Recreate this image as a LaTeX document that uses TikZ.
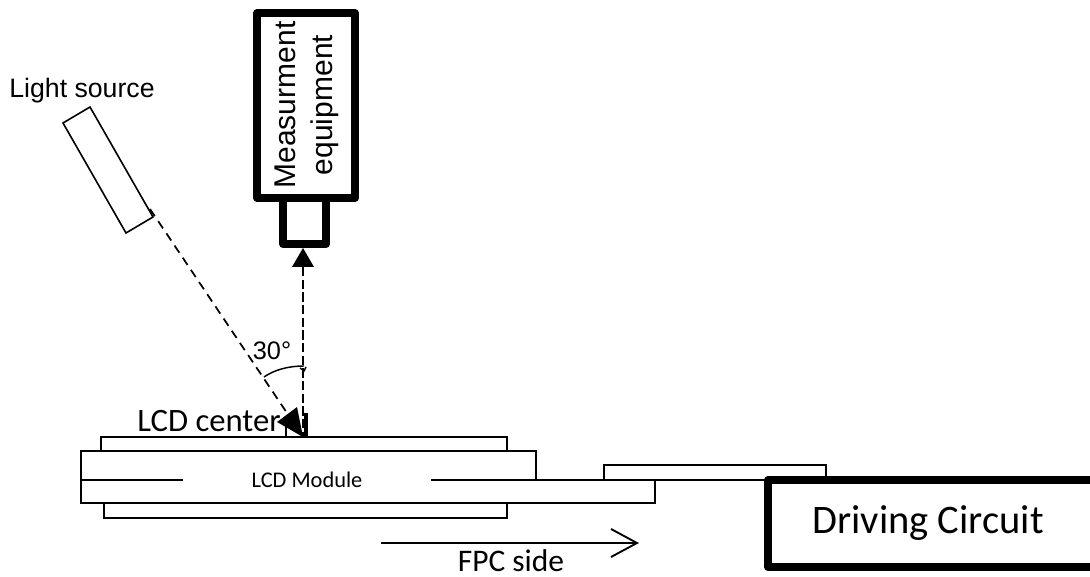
\documentclass[tikz,border=0pt]{standalone}
\usepackage{fontspec}
\setmainfont{Carlito}
\newfontfamily\arialf{Liberation Sans}
\usetikzlibrary{arrows.meta}
\tikzset{
  x=0.75pt,y=-0.75pt,
  thickbox/.style={line width=6pt,line join=round},
  plate/.style={line width=1.6pt,fill=white,outer sep=0pt,inner sep=0pt,anchor=north west,draw},
  modline/.style={line width=2pt,line join=miter},
  midline/.style={line width=1.6pt},
  dashray/.style={line width=1.3pt,dash pattern=on 6.5pt off 4.5pt},
  dashvert/.style={line width=2.2pt,dash pattern=on 7pt off 2.5pt},
  lbl/.style={inner sep=0pt,text=black},
}
\begin{document}
\begin{tikzpicture}
\useasboundingbox (0,0) rectangle (1090,577);
% measurement equipment
\node[draw,thickbox,minimum width=73.5pt,minimum height=138.75pt,inner sep=0pt,outer sep=0pt,anchor=north west] (meas) at (257,13) {};
\coordinate (lensTL) at (283,198);
\coordinate (lensTR) at (326,198);
\coordinate (lensBL) at (283,244);
\coordinate (lensBR) at (326,244);
\draw[thickbox] (lensTL) -- (lensBL) -- (lensBR) -- (lensTR);
\node[lbl,rotate=90,font=\fontsize{22.5pt}{22.5pt}\selectfont\arialf,anchor=center] (m1) at (285,105) {Measurment};
\node[lbl,rotate=90,font=\fontsize{22.5pt}{22.5pt}\selectfont\arialf,anchor=center] (m2) at (325,105) {equipment};
% light source
\coordinate (ls1) at (63,123);
\coordinate (ls2) at (90,107);
\coordinate (ls3) at (153,217);
\coordinate (ls4) at (126,233);
\draw[line width=1.2pt] (ls1) -- (ls2) -- (ls3) -- (ls4) -- cycle;
\node[lbl,font=\fontsize{20pt}{20pt}\selectfont\arialf] (lsl) at (82,91) {Light source};
% plates
\node[plate,minimum width=304.5pt,minimum height=10.5pt] (top) at (101,437) {};
\node[plate,minimum width=302.25pt,minimum height=11.25pt] (bot) at (104,503) {};
\coordinate (mTL) at (81,451); \coordinate (mTR) at (536,451);
\coordinate (mBL) at (81,503); \coordinate (mBR) at (655,503);
\coordinate (mMR) at (536,480); \coordinate (mML) at (81,480);
\coordinate (mL1) at (183,480); \coordinate (mR1) at (431,480);
\coordinate (fpcR) at (655,480); \coordinate (fpcE) at (768,480);
\draw[modline] (mMR) -- (mTR) -- (mTL) -- (mBL) -- (mBR) -- (fpcR);
\draw[midline] (mML) -- (mL1);
\draw[midline] (mR1) -- (fpcE);
\node[lbl,font=\fontsize{16.8pt}{16.8pt}\selectfont] (lcd) at (307,480) {LCD Module};
% connector plate
\coordinate (c1) at (604,480); \coordinate (c2) at (604,465);
\coordinate (c3) at (826,465); \coordinate (c4) at (826,478);
\draw[midline] (c1) -- (c2) -- (c3) -- (c4);
% driving circuit
\coordinate (dTR) at (1100,480); \coordinate (dTL) at (768,480);
\coordinate (dBL) at (768,567); \coordinate (dBR) at (1100,567);
\draw[thickbox] (dTR) -- (dTL) -- (dBL) -- (dBR);
\node[lbl,font=\fontsize{30.4pt}{30.4pt}\selectfont] (drv) at (928,523) {Driving Circuit};
% rays
\coordinate (cen) at (303,437);
\coordinate (rayS) at (150,209);
\coordinate (rayE) at (287,413);
\coordinate (vS) at (303,267);
\coordinate (vTip) at (303,248);
\draw[dashray] (rayS) -- (rayE);
\draw[dashvert] (vS) -- (cen);
\fill (vTip) -- (292,267) -- (314,267) -- cycle;
\coordinate (hA) at (297,407); \coordinate (hB) at (277,422);
\fill (cen) -- (hA) -- (hB) -- cycle;
% LCD centre ticks
\coordinate (t1a) at (286,425); \coordinate (t1b) at (286,437);
\coordinate (t2a) at (306,413); \coordinate (t2b) at (306,437);
\draw[line width=1.9pt] (t1a) -- (t1b);
\draw[line width=2.4pt] (t2a) -- (t2b);
% angle arc
\coordinate (arcA) at (264,377); \coordinate (arcB) at (304,366);
\draw[line width=1.1pt] (arcA) .. controls (274,370) and (288,366) .. (arcB);
\coordinate (sm1) at (300,368); \coordinate (sm2) at (304,371); \coordinate (sm3) at (306,367);
\draw[line width=1.1pt] (sm1) -- (sm2) -- (sm3);
\node[lbl,font=\fontsize{19pt}{19pt}\selectfont\arialf] (ang) at (272,351) {30°};
\node[lbl,font=\fontsize{24.5pt}{24.5pt}\selectfont,anchor=base west] (cent) at (137,432) {LCD center};
% FPC side
\coordinate (fS) at (381,543); \coordinate (fE) at (637,543);
\draw[line width=1.2pt] (fS) -- (fE);
\coordinate (h1) at (611,529); \coordinate (h2) at (611,557);
\draw[line width=1.4pt] (h1) -- (fE) -- (h2);
\node[lbl,font=\fontsize{23.6pt}{23.6pt}\selectfont] (fpc) at (511,561) {FPC side};
\end{tikzpicture}
\end{document}
